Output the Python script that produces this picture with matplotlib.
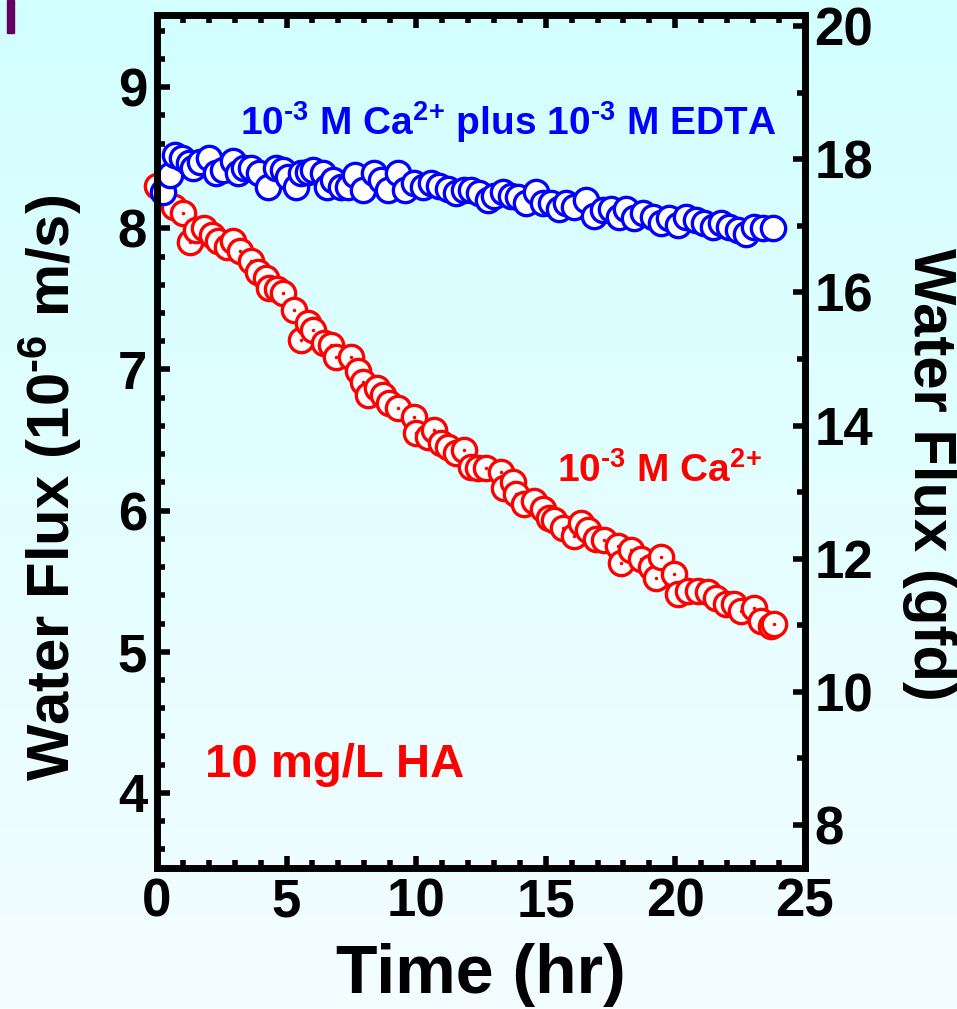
import matplotlib.pyplot as plt
import numpy as np
from matplotlib.patches import Rectangle
from matplotlib.ticker import MultipleLocator

plt.rcParams['font.family'] = ['Liberation Sans', 'DejaVu Sans']
plt.rcParams['font.weight'] = 'bold'
plt.rcParams['mathtext.fontset'] = 'custom'
plt.rcParams['mathtext.rm'] = 'Liberation Sans:bold'
plt.rcParams['mathtext.it'] = 'Liberation Sans:bold'
plt.rcParams['mathtext.bf'] = 'Liberation Sans:bold'
plt.rcParams['mathtext.default'] = 'rm'

# 10-3 M Ca2+ (red)
ca_time = [0.02, 0.64, 1.02, 1.29, 1.49, 1.80, 2.14, 2.37, 2.72, 2.95, 3.22, 3.61,
           3.88, 4.19, 4.31, 4.65, 4.88, 5.27, 5.54, 5.81, 6.04, 6.43, 6.70, 6.89,
           7.47, 7.74, 7.97, 8.13, 8.51, 8.74, 8.94, 9.32, 9.90, 9.98, 10.44, 10.68,
           10.95, 11.25, 11.53, 11.83, 12.10, 12.37, 12.68, 13.26, 13.38, 13.73, 13.84,
           14.15, 14.54, 14.88, 15.12, 15.31, 15.66, 16.08, 16.35, 16.62, 16.93, 17.24,
           17.78, 17.90, 18.28, 18.67, 19.05, 19.25, 19.44, 19.94, 20.10, 20.48, 20.87,
           21.25, 21.56, 21.95, 22.26, 22.53, 23.03, 23.30, 23.69, 23.80]
ca_flux = [8.30, 8.15, 8.11, 7.90, 7.99, 8.00, 7.95, 7.91, 7.87, 7.91, 7.84, 7.77,
           7.69, 7.65, 7.58, 7.57, 7.54, 7.42, 7.21, 7.33, 7.28, 7.19, 7.17, 7.09,
           7.09, 6.99, 6.91, 6.82, 6.87, 6.82, 6.76, 6.73, 6.66, 6.55, 6.52, 6.57,
           6.48, 6.45, 6.41, 6.43, 6.31, 6.30, 6.30, 6.27, 6.16, 6.20, 6.12,
           6.05, 6.07, 6.01, 5.95, 5.93, 5.88, 5.82, 5.91, 5.86, 5.80, 5.79,
           5.75, 5.63, 5.72, 5.66, 5.60, 5.52, 5.67, 5.55, 5.41, 5.43, 5.43,
           5.42, 5.38, 5.34, 5.34, 5.29, 5.31, 5.22, 5.18, 5.20]

# 10-3 M Ca2+ plus 10-3 M EDTA (blue)
edta_time = [0.25, 0.52, 0.71, 0.98, 1.22, 1.41, 1.68, 1.99, 2.26, 2.53, 2.92, 3.11,
             3.34, 3.61, 3.92, 4.27, 4.58, 4.85, 5.04, 5.35, 5.54, 5.81, 6.04, 6.39,
             6.58, 6.81, 7.09, 7.36, 7.66, 7.97, 8.36, 8.63, 8.90, 9.32, 9.59, 9.90,
             10.25, 10.56, 10.87, 11.22, 11.53, 11.83, 12.10, 12.41, 12.76, 12.99, 13.34,
             13.65, 13.92, 14.23, 14.61, 14.88, 15.19, 15.50, 15.77, 16.08, 16.54, 16.85,
             17.20, 17.51, 17.82, 18.09, 18.40, 18.75, 19.13, 19.44, 19.75, 20.10, 20.41,
             20.79, 21.10, 21.45, 21.76, 22.07, 22.41, 22.72, 23.03, 23.38, 23.76]
edta_flux = [8.26, 8.38, 8.52, 8.50, 8.46, 8.43, 8.47, 8.50, 8.39, 8.41, 8.48, 8.39,
             8.43, 8.43, 8.39, 8.29, 8.43, 8.41, 8.36, 8.29, 8.39, 8.40, 8.41, 8.39,
             8.29, 8.34, 8.29, 8.29, 8.38, 8.27, 8.39, 8.34, 8.27, 8.39, 8.27, 8.32,
             8.29, 8.32, 8.30, 8.28, 8.25, 8.27, 8.27, 8.25, 8.20, 8.23, 8.26,
             8.23, 8.22, 8.18, 8.26, 8.18, 8.18, 8.14, 8.18, 8.15, 8.20, 8.09,
             8.13, 8.14, 8.08, 8.14, 8.07, 8.11, 8.08, 8.04, 8.07, 8.02, 8.08,
             8.06, 8.04, 8.01, 8.04, 8.01, 7.99, 7.96, 8.01, 8.00, 8.00]

GFD_PER_UM_S = 2.1204  # 1e-6 m/s -> gfd
ylim_left = (3.47, 9.51)

fig = plt.figure(figsize=(9.57, 10.09), dpi=100)

# gradient background
bg = fig.add_axes([0, 0, 1, 1], zorder=-10)
grad = np.linspace(0, 1, 256).reshape(-1, 1)
top = np.array([210, 255, 255]) / 255
bot = np.array([244, 253, 255]) / 255
img = top + (bot - top) * grad[:, :, None]
bg.imshow(img, aspect='auto', extent=[0, 1, 0, 1])
bg.axis('off')
fig.add_artist(Rectangle((7 / 957, 1 - 33 / 1009), 7 / 957, 33 / 1009,
                         transform=fig.transFigure, color='#640060'))

ax = fig.add_axes([0.164, 0.140, 0.677, 0.845])
ax.set_facecolor('none')

for t, v in zip(ca_time, ca_flux):
    ax.plot(t, v, 'o', ms=17.5, mfc='white', mec='red', mew=2.4, clip_on=False)
    ax.plot(t, v, '.', ms=3, color='red', clip_on=False)
ax.plot(edta_time, edta_flux, 'o', ms=17.5, mfc='white', mec='blue', mew=2.4,
        ls='none', clip_on=False)

ax.set_xlim(0, 25)
ax.set_ylim(*ylim_left)
ax.xaxis.set_major_locator(MultipleLocator(5))
ax.xaxis.set_minor_locator(MultipleLocator(1))
ax.yaxis.set_major_locator(MultipleLocator(1))
ax.yaxis.set_minor_locator(MultipleLocator(0.2))
ax.tick_params(axis='x', which='both', direction='in', top=True, bottom=True)
ax.tick_params(axis='y', which='both', direction='in', left=True, right=False)
ax.tick_params(which='major', length=9, width=4, labelsize=38, pad=7)
ax.tick_params(which='minor', length=5.5, width=4)

ax2 = ax.twinx()
ax2.set_ylim(ylim_left[0] * GFD_PER_UM_S, ylim_left[1] * GFD_PER_UM_S)
ax2.yaxis.set_major_locator(MultipleLocator(2))
ax2.yaxis.set_minor_locator(MultipleLocator(1))
ax2.tick_params(axis='y', which='both', direction='in')
ax2.tick_params(which='major', length=9, width=4, labelsize=38, pad=7)
ax2.tick_params(which='minor', length=5.5, width=4)

for a in (ax, ax2):
    for s in a.spines.values():
        s.set_linewidth(4.8)

ax.set_xlabel('Time (hr)', fontsize=49, fontweight='bold')
ax.set_ylabel(r'Water Flux (10$^{\text{-6}}$ m/s)', fontsize=43, fontweight='bold')
ax2.set_ylabel('Water Flux (gfd)', fontsize=43, fontweight='bold', rotation=270)
ax.xaxis.set_label_coords(0.5, -0.088)
ax.yaxis.set_label_coords(-0.113, 0.445)
ax2.yaxis.set_label_coords(1.235, 0.461)

ax.text(0.542, 0.859, r'10$^{\text{-3}}$ M Ca$^{\text{2+}}$ plus 10$^{\text{-3}}$ M EDTA',
        color='blue', fontsize=28, fontweight='bold', ha='center', va='baseline',
        transform=ax.transAxes)
ax.text(0.776, 0.4525, r'10$^{\text{-3}}$ M Ca$^{\text{2+}}$', color='red',
        fontsize=28, fontweight='bold', ha='center', va='baseline', transform=ax.transAxes)
ax.text(0.275, 0.107, '10 mg/L HA', color='red',
        fontsize=34, fontweight='bold', ha='center', va='baseline', transform=ax.transAxes)

fig.savefig('out.png', dpi=100)
